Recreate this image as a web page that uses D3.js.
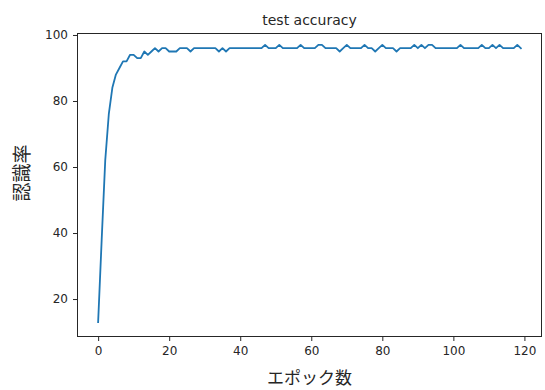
<!DOCTYPE html>
<html>
<head>
<meta charset="utf-8">
<script src="https://cdn.jsdelivr.net/npm/d3@7"></script>
<style>
  body { margin: 0; background: #fff; }
  svg { display: block; }
  .tick text { font-family: "DejaVu Sans", sans-serif; font-size: 12px; fill: #262626; }
</style>
</head>
<body>
<svg width="545" height="390"></svg>
<script>
// test accuracy per epoch
var epochs = d3.range(0, 120);
var accuracy = [
  13, 38, 62, 76, 84, 88, 90, 92, 92, 94,
  94, 93, 93, 95, 94, 95, 96, 95, 96, 96,
  95, 95, 95, 96, 96, 96, 95, 96, 96, 96,
  96, 96, 96, 96, 95, 96, 95, 96, 96, 96,
  96, 96, 96, 96, 96, 96, 96, 97, 96, 96,
  96, 97, 96, 96, 96, 96, 96, 97, 96, 96,
  96, 96, 97, 97, 96, 96, 96, 96, 95, 96,
  97, 96, 96, 96, 96, 97, 96, 96, 95, 96,
  97, 96, 96, 96, 95, 96, 96, 96, 96, 97,
  96, 97, 96, 97, 97, 96, 96, 96, 96, 96,
  96, 96, 97, 96, 96, 96, 96, 96, 97, 96,
  96, 97, 96, 97, 96, 96, 96, 96, 97, 96
];
var xTicks = [0, 20, 40, 60, 80, 100, 120];
var yTicks = [20, 40, 60, 80, 100];

var titleText = "test accuracy";
var xLabel = "エポック数";
var yLabel = "認識率";

var svg = d3.select("svg"),
  plotLeft = 77, plotRight = 542, plotTop = 33, plotBottom = 337;

var x = d3.scaleLinear().domain([-5.95, 124.95]).range([plotLeft, plotRight]);
var y = d3.scaleLinear().domain([8.5, 100.6]).range([plotBottom, plotTop]);

// axes
svg.append("g")
  .attr("transform", "translate(0," + plotBottom + ")")
  .call(d3.axisBottom(x).tickValues(xTicks).tickSize(4).tickPadding(5).tickSizeOuter(0));

svg.append("g")
  .attr("transform", "translate(" + plotLeft + ",0)")
  .call(d3.axisLeft(y).tickValues(yTicks).tickSize(4).tickPadding(5).tickSizeOuter(0));

svg.selectAll(".domain").remove();
svg.selectAll(".tick line").attr("stroke", "#262626").attr("stroke-width", 1);

// frame
svg.append("rect")
  .attr("x", plotLeft + 0.5)
  .attr("y", plotTop + 0.5)
  .attr("width", plotRight - plotLeft - 1)
  .attr("height", plotBottom - plotTop - 1)
  .attr("fill", "none")
  .attr("stroke", "#262626")
  .attr("stroke-width", 1);

// the curve
var line = d3.line()
  .x(function (d, i) { return x(epochs[i]); })
  .y(function (d) { return y(d); });

svg.append("path")
  .datum(accuracy)
  .attr("d", line)
  .attr("fill", "none")
  .attr("stroke", "#1f77b4")
  .attr("stroke-width", 1.8)
  .attr("stroke-linejoin", "round")
  .attr("stroke-linecap", "square");

// texts
svg.append("text")
  .attr("x", (plotLeft + plotRight) / 2)
  .attr("y", 25)
  .attr("text-anchor", "middle")
  .attr("font-family", "DejaVu Sans, sans-serif")
  .attr("font-size", 14)
  .attr("fill", "#262626")
  .text(titleText);

svg.append("text")
  .attr("x", (plotLeft + plotRight) / 2)
  .attr("y", 384)
  .attr("text-anchor", "middle")
  .attr("font-family", "Noto Sans CJK JP, sans-serif")
  .attr("font-size", 17)
  .attr("fill", "#262626")
  .text(xLabel);

svg.append("text")
  .attr("transform", "translate(29," + ((plotTop + plotBottom) / 2 - 12) + ") rotate(-90)")
  .attr("text-anchor", "middle")
  .attr("font-family", "Noto Sans CJK JP, sans-serif")
  .attr("font-size", 19)
  .attr("fill", "#262626")
  .text(yLabel);
</script>
</body>
</html>
